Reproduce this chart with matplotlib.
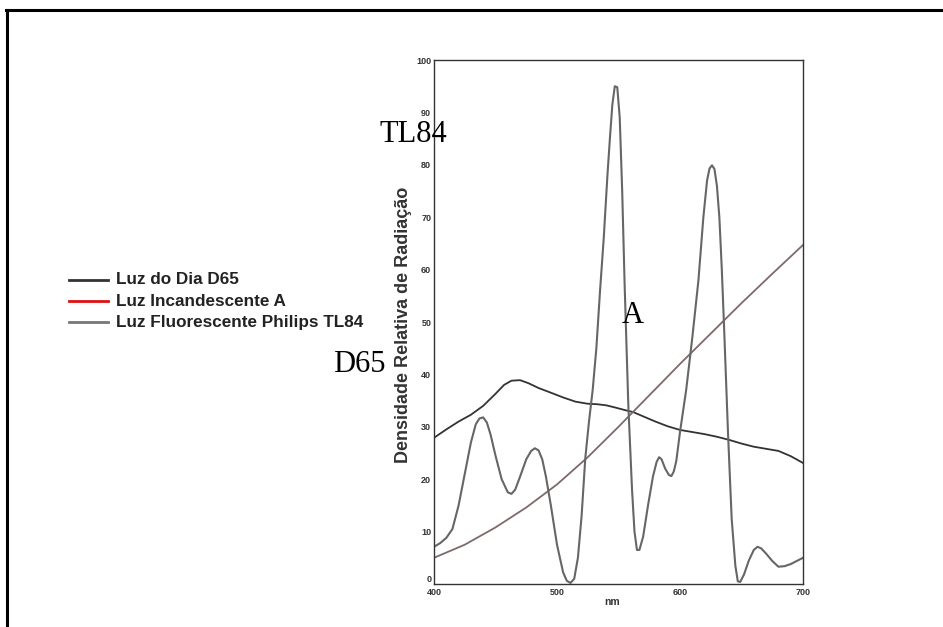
import matplotlib
matplotlib.use('Agg')
import matplotlib.pyplot as plt
from matplotlib.lines import Line2D

# wavelength (nm) / relative radiation density
d65_nm = [400, 410, 420, 430, 440, 450, 457, 463, 470, 477, 485, 494, 505, 515, 525, 533,
          540, 547, 555, 562, 570, 580, 590, 600, 610, 620, 630, 640, 650, 660, 670, 680, 690, 700]
d65_val = [27.9, 29.5, 31.0, 32.3, 34.0, 36.3, 38.0, 38.8, 38.9, 38.3, 37.4, 36.6, 35.6, 34.8, 34.4, 34.3,
           34.1, 33.7, 33.2, 32.8, 32.0, 31.0, 30.1, 29.4, 29.0, 28.6, 28.1, 27.5, 26.8, 26.2, 25.8, 25.4, 24.4, 23.1]

a_nm = [400, 425, 450, 475, 500, 525, 550, 575, 600, 625, 650, 675, 700]
a_val = [5.0, 7.5, 10.8, 14.6, 19.0, 24.2, 30.0, 36.0, 42.0, 47.8, 53.6, 59.2, 64.7]

tl84_nm = [400, 405, 410, 415, 420, 425, 430, 434, 437, 440, 443, 446, 450, 455, 460, 463, 466, 470, 475,
           479, 482, 485, 488, 491, 495, 500, 505, 508, 511, 514, 517, 520, 523, 526, 529, 532, 535, 538,
           541, 543, 545, 547, 549, 551, 553, 555, 558, 561, 563, 565, 567, 570, 574, 578,
           581, 583, 585, 588, 591, 593, 595, 597, 600, 605, 610, 615, 619, 622, 624, 626, 628, 630, 632,
           634, 636, 639, 642, 645, 647, 649, 652, 656, 660, 663, 666, 670, 675, 680, 685, 690,
           695, 700]
tl84_val = [7.1, 7.8, 8.8, 10.5, 15.0, 21.0, 27.0, 30.5, 31.6, 31.8, 30.8, 28.5, 24.5, 20.0, 17.5, 17.2, 18.0, 20.5, 23.8,
            25.4, 25.9, 25.5, 23.8, 20.5, 15.0, 7.5, 2.2, 0.6, 0.2, 1.0, 5.0, 13.0, 24.0, 31.0, 37.0, 45.0, 56.0, 66.0,
            78.0, 85.0, 91.5, 95.0, 94.8, 89.0, 75.0, 57.0, 34.0, 18.0, 10.0, 6.5, 6.5, 9.0, 15.0, 20.5,
            23.3, 24.2, 23.8, 22.0, 20.8, 20.6, 21.5, 23.5, 29.0, 37.0, 47.0, 58.0, 70.0, 77.0, 79.3, 79.9, 79.2, 76.0, 70.0,
            60.0, 48.0, 29.0, 12.5, 3.5, 0.5, 0.4, 1.8, 4.5, 6.5, 7.1, 6.8, 5.8, 4.4, 3.3, 3.4, 3.8,
            4.4, 5.0]

legend_labels = ['Luz do Dia D65', 'Luz Incandescente A', 'Luz Fluorescente Philips TL84']
legend_colors = ['#333333', '#e01010', '#777777']

W, H = 943, 627
fig = plt.figure(figsize=(W / 100, H / 100), dpi=100)
fig.patch.set_facecolor('white')

ax = fig.add_axes([434 / W, 1 - 584 / H, (803 - 434) / W, (584 - 60) / H])
ax.plot(d65_nm, d65_val, color='#333333', lw=1.3)
ax.plot(a_nm, a_val, color='#7d6a6a', lw=1.3)
ax.plot(tl84_nm, tl84_val, color='#666666', lw=1.5)
ax.set_xlim(400, 700)
ax.set_ylim(0, 100)
ax.set_xticks([400, 500, 600, 700])
ax.set_yticks(range(0, 101, 10))
ax.tick_params(length=0, labelsize=6.5, colors='#333333', pad=2)
ax.tick_params(axis='x', pad=3)
for lab in ax.get_xticklabels() + ax.get_yticklabels():
    lab.set_fontweight('bold')
    lab.set_family('Liberation Sans')
# the "0" sits just above the "400" as in the scan
ax.get_yticklabels()[0].set_va('bottom')
for s in ax.spines.values():
    s.set_color('#333333')
    s.set_linewidth(1.0)
ax.text(0.483, -0.025, 'nm', transform=ax.transAxes, ha='center', va='top',
        fontsize=7.5, fontweight='bold', family='Liberation Sans', color='#333333')

fig.text(403 / W, 1 - 325 / H, 'Densidade Relativa de Radiação', rotation=90,
         ha='center', va='center', fontsize=13, fontweight='bold',
         family='Liberation Sans', color='#333333')

# legend drawn by hand, left of the plot
for i, (lab, col) in enumerate(zip(legend_labels, legend_colors)):
    y = 1 - (280 + 21 * i) / H
    fig.add_artist(Line2D([69 / W, 108 / W], [y, y], color=col, lw=2))
    fig.text(116 / W, y, lab, ha='left', va='center', fontsize=12.3,
             fontweight='bold', family='Liberation Sans', color='#222222')

# big curve names in serif
for txt, x, y in [('TL84', 380, 142), ('A', 622, 323), ('D65', 333, 372)]:
    fig.text(x / W, 1 - y / H, txt, ha='left', va='baseline', fontsize=22,
             family='Liberation Serif', color='black')

# page frame
fig.add_artist(Line2D([6 / W, 1.0], [1 - 10 / H, 1 - 10 / H], color='black', lw=2.2))
fig.add_artist(Line2D([7 / W, 7 / W], [0.0, 1 - 10 / H], color='black', lw=2.2))

fig.savefig('out.png', dpi=100)
